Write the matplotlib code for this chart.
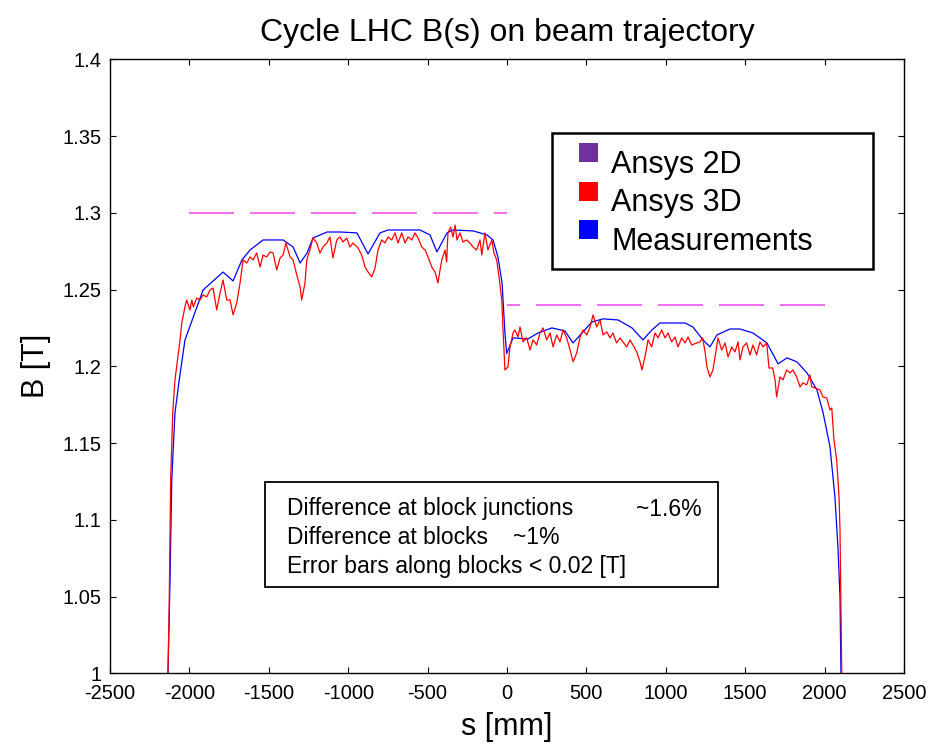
"""Cycle LHC B(s) on beam trajectory: Ansys 2D / 3D against measurements."""

import matplotlib

matplotlib.use("Agg")

import matplotlib.pyplot as plt
from matplotlib.patches import Rectangle

plt.rcParams["font.family"] = ["Liberation Sans", "DejaVu Sans"]
plt.rcParams["lines.scale_dashes"] = False
plt.rcParams["axes.unicode_minus"] = False

W, H = 943, 748

# Ansys 2D: flat field per block (drawn as dashed segments)
ansys2d_block1_s = [-2000, 0]
ansys2d_block1_b = [1.30, 1.30]
ansys2d_block2_s = [2000, 0]
ansys2d_block2_b = [1.24, 1.24]

# Measurements (blue)
meas_s = [
    -2135, -2122, -2111, -2091, -2064, -2028, -1914, -1788, -1725, -1669,
    -1618, -1536, -1410, -1347, -1303, -1259, -1222, -1133, -1052, -945,
    -875, -800, -749, -548, -485, -441, -378, -340, -214, -126,
    -88, -57, -31, -13, -2, 38, 132, 195, 283, 365,
    416, 472, 535, 605, 699, 787, 856, 913, 963, 1121,
    1171, 1234, 1278, 1322, 1404, 1467, 1549, 1637, 1707, 1763,
    1826, 1889, 1952, 1990, 2034, 2065, 2084, 2097, 2103,
]
meas_b = [
    1.0, 1.0608, 1.1260, 1.1696, 1.1911, 1.2171, 1.2497, 1.2614, 1.2556, 1.2693,
    1.2758, 1.2823, 1.2823, 1.2777, 1.2673, 1.2738, 1.2836, 1.2875, 1.2875, 1.2869,
    1.2732, 1.2869, 1.2888, 1.2888, 1.2856, 1.2745, 1.2869, 1.2888, 1.2882, 1.2856,
    1.2823, 1.2712, 1.2543, 1.2217, 1.2083, 1.2185, 1.2178, 1.2217, 1.2250, 1.2230,
    1.2152, 1.2217, 1.2289, 1.2309, 1.2302, 1.2250, 1.2172, 1.2237, 1.2282, 1.2282,
    1.2256, 1.2172, 1.2126, 1.2204, 1.2243, 1.2243, 1.2217, 1.2152, 1.2016, 1.2055,
    1.2029, 1.1957, 1.1846, 1.1700, 1.1475, 1.1149, 1.0823, 1.0498, 1.0,
]

# Ansys 3D (red)
ansys3d_s = [
    -2135, -2128, -2118, -2105, -2091, -2059, -2048, -2028, -2017, -1996,
    -1985, -1975, -1954, -1933, -1914, -1891, -1870, -1851, -1828, -1807,
    -1788, -1765, -1744, -1725, -1702, -1681, -1662, -1639, -1618, -1599,
    -1576, -1555, -1536, -1513, -1492, -1473, -1450, -1429, -1410, -1392,
    -1366, -1347, -1324, -1303, -1293, -1272, -1261, -1241, -1222, -1198,
    -1178, -1159, -1135, -1115, -1096, -1072, -1052, -1033, -1009, -989,
    -970, -938, -915, -894, -875, -852, -831, -812, -789, -768,
    -749, -726, -705, -686, -663, -642, -623, -600, -579, -560,
    -537, -516, -497, -474, -453, -435, -411, -390, -380, -372,
    -355, -340, -327, -315, -296, -277, -254, -233, -214, -191,
    -170, -159, -139, -120, -96, -82, -65, -50, -33, -25,
    -13, 6, 19, 38, 50, 69, 82, 101, 124, 145,
    164, 187, 208, 227, 250, 271, 290, 313, 334, 353,
    376, 397, 416, 439, 460, 479, 502, 523, 542, 565,
    586, 605, 628, 649, 667, 690, 712, 730, 754, 775,
    793, 817, 838, 850, 869, 888, 911, 932, 951, 974,
    995, 1014, 1037, 1058, 1077, 1100, 1121, 1140, 1163, 1195,
    1215, 1232, 1247, 1259, 1278, 1297, 1320, 1329, 1352, 1373,
    1392, 1415, 1436, 1455, 1467, 1486, 1509, 1530, 1549, 1572,
    1593, 1612, 1635, 1650, 1673, 1688, 1698, 1719, 1738, 1761,
    1782, 1801, 1824, 1845, 1864, 1887, 1908, 1919, 1939, 1971,
    1990, 2013, 2034, 2045, 2053, 2059, 2076, 2091, 2097, 2108,
]
ansys3d_b = [
    1.0, 1.0393, 1.1260, 1.1696, 1.1911, 1.2171, 1.2282, 1.2387, 1.2432, 1.2367,
    1.2432, 1.2387, 1.2445, 1.2432, 1.2465, 1.2452, 1.2497, 1.2510, 1.2367, 1.2478,
    1.2562, 1.2432, 1.2432, 1.2335, 1.2412, 1.2543, 1.2693, 1.2673, 1.2712, 1.2693,
    1.2738, 1.2647, 1.2725, 1.2712, 1.2745, 1.2738, 1.2627, 1.2706, 1.2725, 1.2803,
    1.2712, 1.2693, 1.2595, 1.2517, 1.2432, 1.2543, 1.2693, 1.2758, 1.2836, 1.2803,
    1.2738, 1.2777, 1.2803, 1.2843, 1.2706, 1.2823, 1.2843, 1.2810, 1.2836, 1.2777,
    1.2803, 1.2771, 1.2725, 1.2647, 1.2614, 1.2582, 1.2640, 1.2758, 1.2823, 1.2803,
    1.2843, 1.2823, 1.2869, 1.2803, 1.2869, 1.2803, 1.2843, 1.2823, 1.2869, 1.2836,
    1.2777, 1.2758, 1.2712, 1.2647, 1.2614, 1.2543, 1.2693, 1.2758, 1.2679, 1.2869,
    1.2907, 1.2843, 1.2920, 1.2823, 1.2869, 1.2810, 1.2823, 1.2803, 1.2777, 1.2758,
    1.2823, 1.2725, 1.2869, 1.2758, 1.2823, 1.2738, 1.2693, 1.2582, 1.2432, 1.2237,
    1.1976, 1.1996, 1.2126, 1.2217, 1.2237, 1.2191, 1.2256, 1.2159, 1.2185, 1.2106,
    1.2172, 1.2139, 1.2217, 1.2250, 1.2172, 1.2217, 1.2126, 1.2204, 1.2159, 1.2237,
    1.2185, 1.2106, 1.2029, 1.2087, 1.2191, 1.2237, 1.2204, 1.2256, 1.2335, 1.2256,
    1.2302, 1.2204, 1.2224, 1.2185, 1.2217, 1.2152, 1.2185, 1.2159, 1.2126, 1.2172,
    1.2139, 1.2094, 1.2029, 1.1976, 1.2061, 1.2172, 1.2126, 1.2217, 1.2185, 1.2237,
    1.2185, 1.2217, 1.2159, 1.2191, 1.2126, 1.2185, 1.2152, 1.2191, 1.2139, 1.2152,
    1.2159, 1.2185, 1.2094, 1.1996, 1.1931, 1.1976, 1.2126, 1.2185, 1.2106, 1.2152,
    1.2061, 1.2126, 1.2094, 1.2159, 1.2042, 1.2126, 1.2152, 1.2074, 1.2139, 1.2074,
    1.2159, 1.2126, 1.2152, 1.1989, 1.1989, 1.1911, 1.1800, 1.1931, 1.1911, 1.1976,
    1.1957, 1.1976, 1.1931, 1.1866, 1.1892, 1.1879, 1.1944, 1.1866, 1.1859, 1.1846,
    1.1800, 1.1794, 1.1716, 1.1729, 1.1605, 1.1520, 1.1390, 1.1149, 1.0934, 1.0,
]

legend_labels = ["Ansys 2D", "Ansys 3D", "Measurements"]
legend_colors = ["#7030A0", "#FF0000", "#0000FF"]

note_lines = [
    ("Difference at block junctions", "~1.6%"),
    ("Difference at blocks", "~1%"),
    ("Error bars along blocks < 0.02 [T]", ""),
]


def fx(px):
    return px / W


def fy(py):
    return 1 - py / H


fig = plt.figure(figsize=(W / 100, H / 100), dpi=100)
ax = fig.add_axes([fx(110), fy(673.3), fx(904) - fx(110), fy(59.3) - fy(673.3)])

dash = (0, (32.4, 11.5))
ax.plot(ansys2d_block1_s, ansys2d_block1_b, color="#EE44EE", lw=1.1, linestyle=dash)
ax.plot(ansys2d_block2_s, ansys2d_block2_b, color="#EE44EE", lw=1.1, linestyle=dash)
ax.plot(meas_s, meas_b, color="#0000FF", lw=0.9)
ax.plot(ansys3d_s, ansys3d_b, color="#FF0000", lw=0.9)

ax.set_xlim(-2500, 2500)
ax.set_ylim(1.0, 1.4)
ax.set_xticks(range(-2500, 2501, 500))
ax.set_yticks([1, 1.05, 1.1, 1.15, 1.2, 1.25, 1.3, 1.35, 1.4])
ax.set_yticklabels(["1", "1.05", "1.1", "1.15", "1.2", "1.25", "1.3", "1.35", "1.4"])
ax.tick_params(direction="in", length=4.5, width=0.8, top=True, right=True,
               labelsize=14.5)
ax.tick_params(axis="x", pad=8)
ax.tick_params(axis="y", pad=6)
for sp in ax.spines.values():
    sp.set_linewidth(1.0)

ax.set_title("Cycle LHC B(s) on beam trajectory", fontsize=23, pad=13)
ax.set_xlabel("s [mm]", fontsize=22, labelpad=6)
ax.set_ylabel("B [T]", fontsize=22, labelpad=8)

# legend box drawn by hand: squares sit above the text as in the original
fig.add_artist(Rectangle((fx(552), fy(269)), fx(873) - fx(552), fy(133) - fy(269),
                         transform=fig.transFigure, fill=True, facecolor="white",
                         edgecolor="black", lw=1.8, zorder=5))
for i, (lab, col) in enumerate(zip(legend_labels, legend_colors)):
    top = 143 + i * 38.5
    fig.add_artist(Rectangle((fx(579), fy(top + 19)), fx(19), fy(0) - fy(19),
                             transform=fig.transFigure, facecolor=col,
                             edgecolor="none", zorder=6))
    fig.text(fx(611), fy(165 + i * 38.5), lab, fontsize=22, va="center",
             ha="left", zorder=6)

# notes box
fig.add_artist(Rectangle((fx(265), fy(587)), fx(718) - fx(265), fy(482) - fy(587),
                         transform=fig.transFigure, facecolor="white",
                         edgecolor="black", lw=1.3, zorder=5))
note_x2 = [636, 513, 0]
for i, (left, right) in enumerate(note_lines):
    yc = 509 + i * 28.5
    fig.text(fx(287), fy(yc), left, fontsize=16.5, va="center", ha="left", zorder=6)
    if right:
        fig.text(fx(note_x2[i]), fy(yc), right, fontsize=16.5, va="center",
                 ha="left", zorder=6)

fig.savefig("out.png", dpi=100)
plt.close(fig)
print("Saved out.png")
